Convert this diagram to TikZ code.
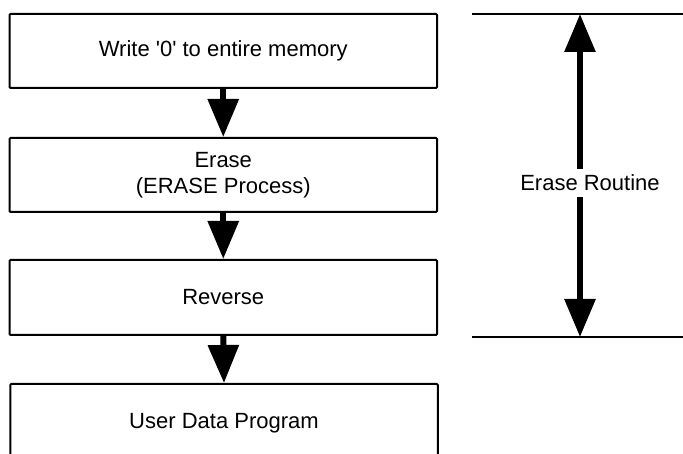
\documentclass[tikz,border=0pt]{standalone}
\usepackage{fontspec}
\setmainfont{Liberation Sans}
\usetikzlibrary{arrows.meta}
\tikzset{
  stepbox/.style={draw=black, line width=2pt, minimum width=427.5pt, inner sep=0pt, align=center,
    font=\fontsize{22}{26}\selectfont, rounded corners=1pt},
  flowarrow/.style={line width=6pt, -{Triangle[width=30pt,length=38pt]}},
  spanarrow/.style={line width=6pt, {Triangle[width=30pt,length=38pt]}-{Triangle[width=30pt,length=38pt]}},
  refline/.style={line width=2pt},
}
\begin{document}
\begin{tikzpicture}[x=1pt,y=-1pt]
\useasboundingbox (0,0) rectangle (683,454);
\clip (0,0) rectangle (683,454);
\node[stepbox, minimum height=74pt] (b1) at (223.25,51) {Write \textquotesingle0\textquotesingle{} to entire memory};
\node[stepbox, minimum height=74pt] (b2) at (223.25,175) {Erase\\(ERASE Process)};
\node[stepbox, minimum height=75pt] (b3) at (223.25,297.5) {Reverse};
\node[stepbox, minimum height=78pt] (b4) at (224,423) {User Data Program};
\draw[flowarrow] (b1.south) -- (b2.north);
\draw[flowarrow] (b2.south) -- (b3.north);
\draw[flowarrow] (b3.south) -- (b4.north);
\coordinate (tl) at (472,14);
\coordinate (tr) at (683,14);
\coordinate (bl) at (472,337);
\coordinate (br) at (683,337);
\coordinate (ta) at (580,14);
\coordinate (ba) at (580,337);
\draw[refline] (tl) -- (tr);
\draw[refline] (bl) -- (br);
\draw[spanarrow] (ta) -- (ba);
\node[fill=white, inner xsep=2pt, inner ysep=6pt, font=\fontsize{22}{26}\selectfont] (lbl) at (590,183) {Erase Routine};
\end{tikzpicture}
\end{document}
